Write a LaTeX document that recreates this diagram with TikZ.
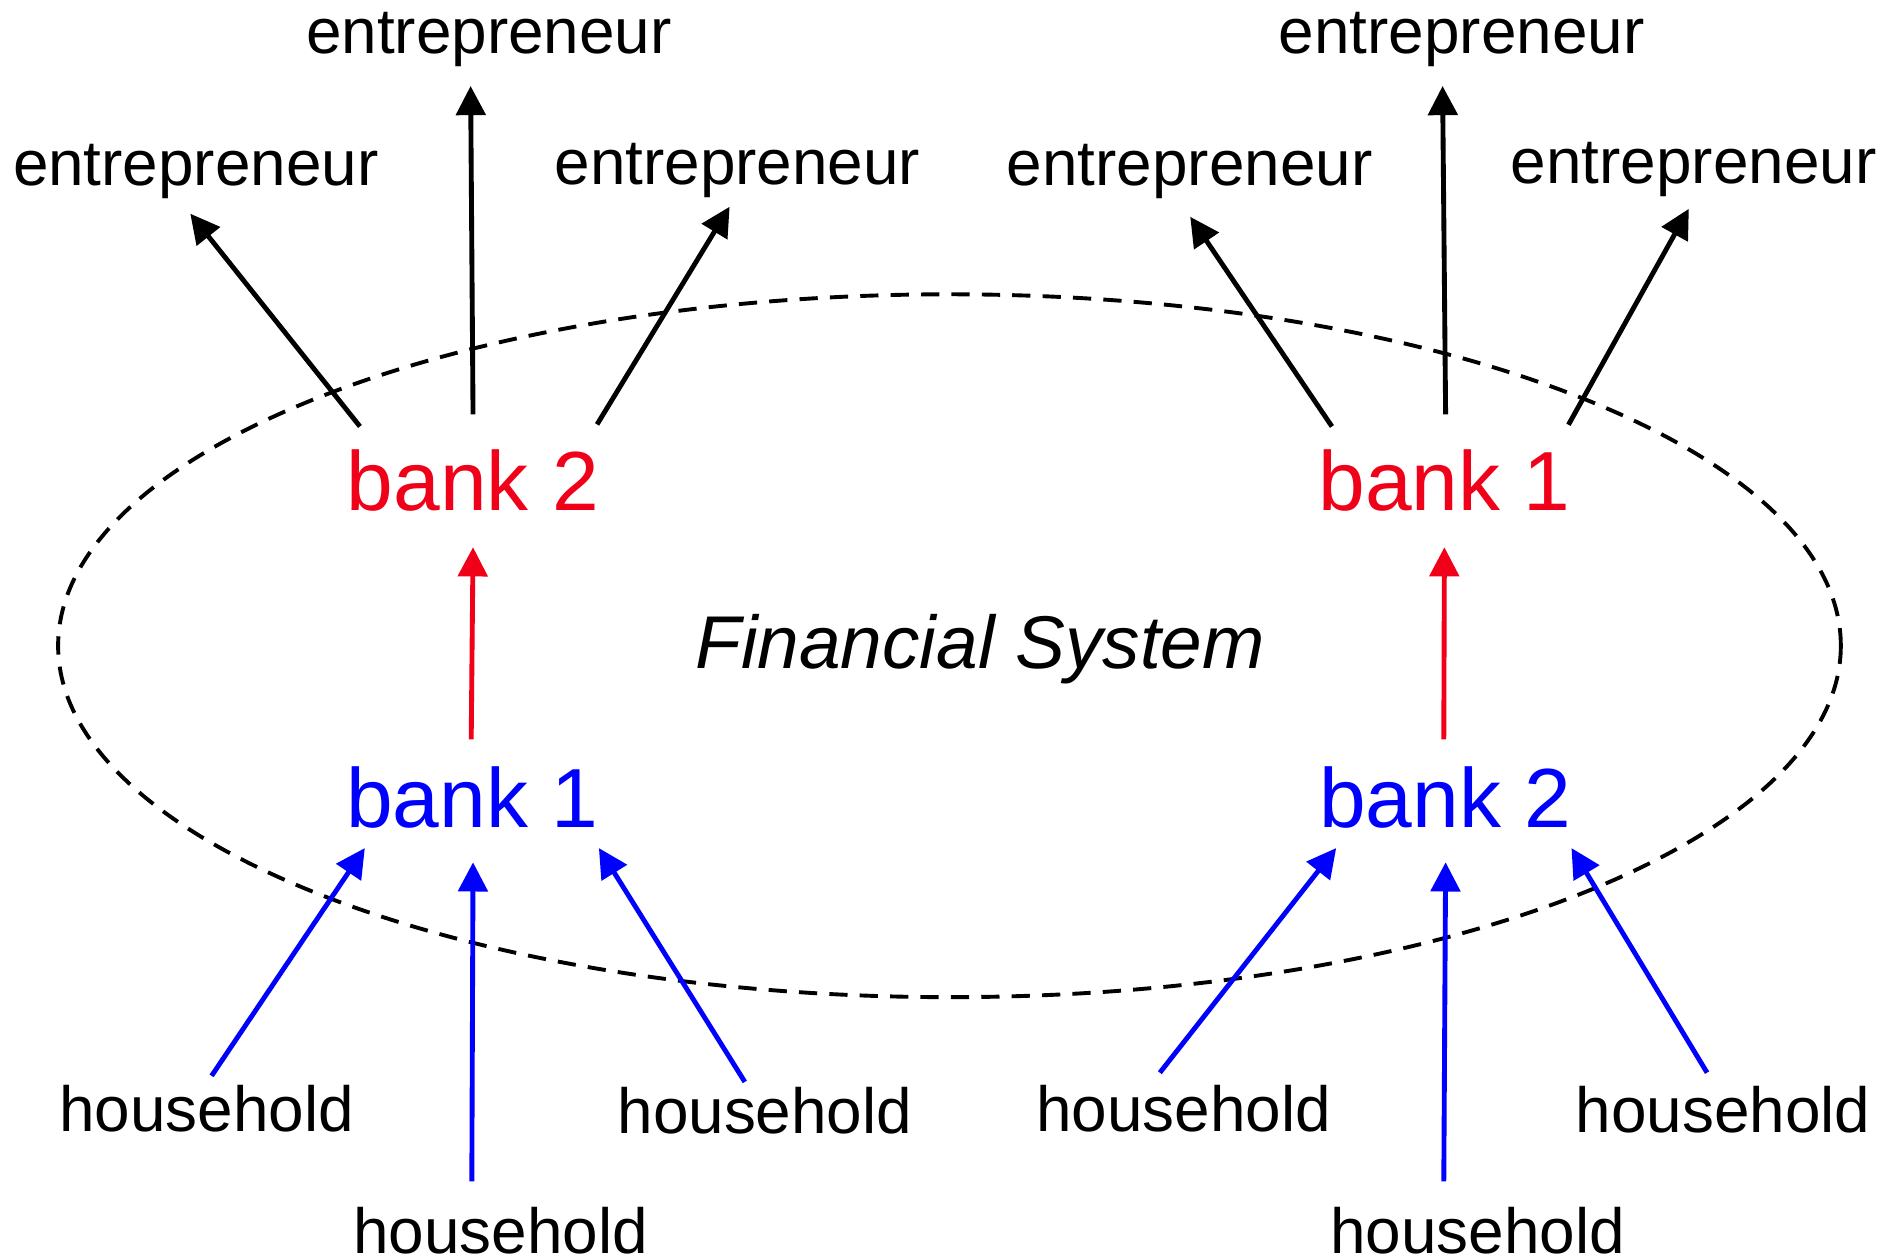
\documentclass[tikz,border=0pt]{standalone}
\usepackage{fontspec}
\setmainfont{Liberation Sans}
\usetikzlibrary{arrows.meta}
\definecolor{bankred}{RGB}{240,0,25}
\definecolor{bankblue}{RGB}{0,0,255}
\begin{document}
\begin{tikzpicture}[x=1pt,y=-1pt,
  lbl/.style={anchor=base,inner sep=0pt,font=\fontsize{52.5}{60}\selectfont},
  banklbl/.style={anchor=base,inner sep=0pt,font=\fontsize{69}{80}\selectfont},
  arr/.style={line width=4pt,-{Triangle[length=24pt,width=24pt]}},
  karr/.style={arr,black},
  rarr/.style={arr,bankred},
  barr/.style={arr,bankblue},
  sysline/.style={line width=3.2pt,dash pattern=on 15pt off 10pt}
]
\useasboundingbox (0,0) rectangle (1560,1034.5);
% ellipse
\draw[sysline] (780.8,531) ellipse [x radius=733, y radius=289];
\node[anchor=base,inner sep=0pt,font=\fontsize{61.5}{70}\selectfont\itshape] (fs) at (806,550) {Financial System};
% entrepreneurs
\node[lbl] (eL2) at (161,152.7) {entrepreneur};
\node[lbl] (eT2) at (402,44) {entrepreneur};
\node[lbl] (eR2) at (606.5,151.7) {entrepreneur};
\node[lbl] (eL1) at (978.3,152.7) {entrepreneur};
\node[lbl] (eT1) at (1202,44) {entrepreneur};
\node[lbl] (eR1) at (1392.8,150.7) {entrepreneur};
% banks
\node[banklbl,text=bankred] (r2) at (388.9,420) {bank 2};
\node[banklbl,text=bankred] (r1) at (1187.8,420) {bank 1};
\node[banklbl,text=bankblue] (b1) at (388.3,680.4) {bank 1};
\node[banklbl,text=bankblue] (b2) at (1188.4,680.4) {bank 2};
% households
\node[lbl] (hA) at (170,930.7) {household};
\node[lbl] (hB) at (411.8,1031) {household};
\node[lbl] (hC) at (629,932.4) {household};
\node[lbl] (hD) at (973.3,930.7) {household};
\node[lbl] (hE) at (1215,1031) {household};
\node[lbl] (hF) at (1417,931.4) {household};
% bank -> entrepreneur
\draw[karr] ([shift={(-92.9,-69.3)}]r2.base) -- ([shift={(-4.5,23)}]eL2.base);
\draw[karr] ([shift={(0.1,-79.3)}]r2.base) -- ([shift={(-15,26.7)}]eT2.base);
\draw[karr] ([shift={(102.1,-71)}]r2.base) -- ([shift={(-6.5,18.3)}]eR2.base);
\draw[karr] ([shift={(-92.5,-69.3)}]r1.base) -- ([shift={(0.5,25.6)}]eL1.base);
\draw[karr] ([shift={(1,-79.3)}]r1.base) -- ([shift={(-15.7,26.7)}]eT1.base);
\draw[karr] ([shift={(102,-70.7)}]r1.base) -- ([shift={(-4,21)}]eR1.base);
% bank -> bank
\draw[rarr] ([shift={(-0.8,-72.4)}]b1.base) -- ([shift={(0.1,30)}]r2.base);
\draw[rarr] ([shift={(-1.1,-72.4)}]b2.base) -- ([shift={(0,30)}]r1.base);
% household -> bank
\draw[barr] ([shift={(4,-46)}]hA.base) -- ([shift={(-88.3,17)}]b1.base);
\draw[barr] ([shift={(-23.8,-59.6)}]hB.base) -- ([shift={(0.7,28.7)}]b1.base);
\draw[barr] ([shift={(-16.5,-42.7)}]hC.base) -- ([shift={(104.2,17)}]b1.base);
\draw[barr] ([shift={(-19.5,-48.6)}]hD.base) -- ([shift={(-89.6,17)}]b2.base);
\draw[barr] ([shift={(-27.7,-59.6)}]hE.base) -- ([shift={(0.4,28.7)}]b2.base);
\draw[barr] ([shift={(-13.2,-49.3)}]hF.base) -- ([shift={(103.9,17)}]b2.base);
\end{tikzpicture}
\end{document}
